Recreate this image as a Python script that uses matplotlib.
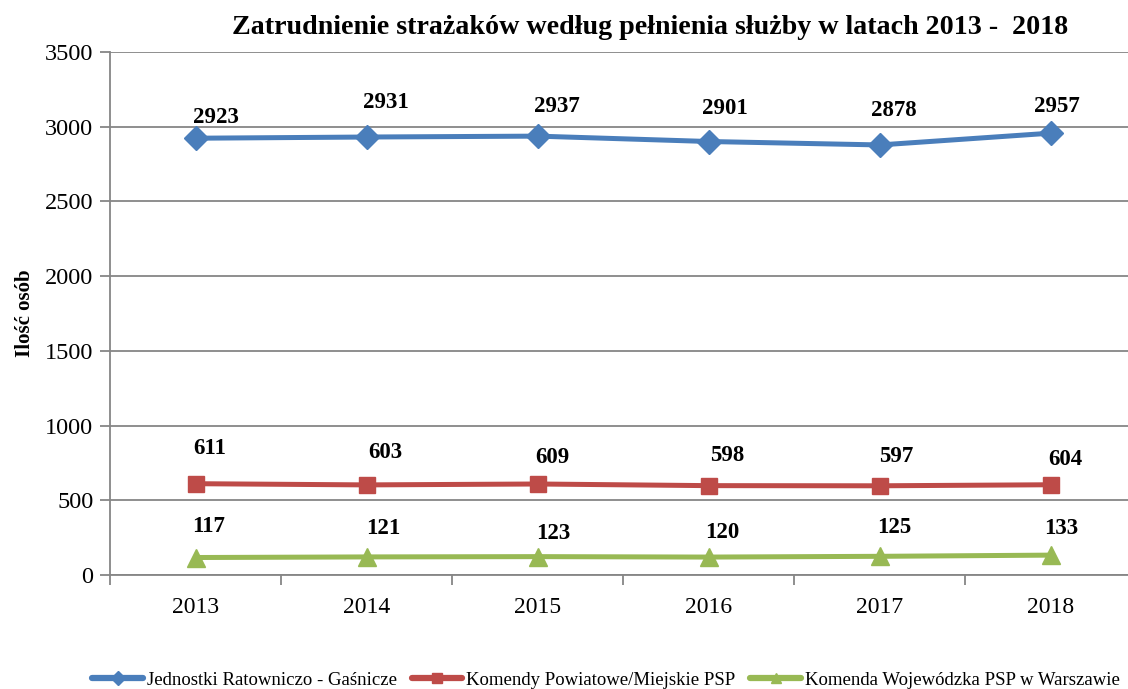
import matplotlib
matplotlib.use("Agg")
import matplotlib.pyplot as plt
from matplotlib.ticker import FixedLocator, NullFormatter

years = ["2013", "2014", "2015", "2016", "2017", "2018"]
jrg = [2923, 2931, 2937, 2901, 2878, 2957]
komendy = [611, 603, 609, 598, 597, 604]
kw = [117, 121, 123, 120, 125, 133]
series_names = ["Jednostki Ratowniczo - Gaśnicze",
                "Komendy Powiatowe/Miejskie PSP",
                "Komenda Wojewódzka PSP w Warszawie"]
title = "Zatrudnienie strażaków według pełnienia służby w latach 2013 -  2018"
ylabel = "Ilość osób"

# hand-placed label offsets (pixels right, pixels up) for each point
label_shift = [
    [(20, 21), (19, 35), (19, 30), (16, 33), (14, 34), (6, 27)],
    [(14, 35), (19, 32), (15, 26), (18, 30), (16, 29), (14, 25)],
    [(13, 31), (17, 28), (16, 23), (13, 25), (14, 29), (10, 27)],
]

plt.rcParams["font.family"] = ["Liberation Serif", "DejaVu Serif"]

fig = plt.figure(figsize=(11.28, 6.89), dpi=100)
ax = fig.add_axes([110 / 1128, 114 / 689, 1026.5 / 1128, 523 / 689])

x = list(range(len(years)))
styles = [
    (jrg, "#4A7EBB", "D", 12),
    (komendy, "#BE4B48", "s", 12),
    (kw, "#98B954", "^", 13),
]
px = 72 / 100
handles = []
for (vals, col, mk, ms), name, shifts in zip(styles, series_names, label_shift):
    h, = ax.plot(x, vals, color=col, lw=3.6, marker=mk, ms=ms,
                 markeredgecolor=col, label=name, solid_capstyle="round", zorder=3)
    handles.append(h)
    for xi, v, (dx, dy) in zip(x, vals, shifts):
        ax.annotate(f"{v}", (xi, v), xytext=(dx * px, dy * px), textcoords="offset points",
                    ha="center", va="center", fontsize=16.5, fontweight="bold")

ax.set_xlim(-0.5, 5.5)
ax.set_ylim(0, 3500)
ax.set_yticks(range(0, 3501, 500))
ax.yaxis.grid(True, color="#868686", lw=1.3)
ax.set_axisbelow(True)
ax.set_xticks(x)
ax.set_xticklabels(years)
ax.xaxis.set_minor_locator(FixedLocator([i + 0.5 for i in range(-1, 6)]))
ax.xaxis.set_minor_formatter(NullFormatter())
ax.tick_params(axis="x", which="major", length=0, pad=16, labelsize=17)
ax.tick_params(axis="x", which="minor", length=7, width=1.3, color="#868686")
ax.tick_params(axis="y", length=7, width=1.3, color="#868686", labelsize=17.5, pad=5)
for s in ["top", "right"]:
    ax.spines[s].set_visible(False)
for s in ["left", "bottom"]:
    ax.spines[s].set_color("#868686")
    ax.spines[s].set_linewidth(1.3)

ax.set_ylabel(ylabel, fontsize=15, fontweight="bold", labelpad=7)
fig.text(650 / 1128, 1 - 28 / 689, title, ha="center", va="center",
         fontsize=20.2, fontweight="bold")

leg = fig.legend(handles=handles, loc="center", bbox_to_anchor=(606 / 1128, 1 - 680 / 689),
                 ncol=3, frameon=False, fontsize=13.5, handlelength=2.7,
                 columnspacing=0.8, handletextpad=0.2, markerscale=0.6)
for line in leg.get_lines():
    line.set_linewidth(4.5)

fig.savefig("out.png", dpi=100)
